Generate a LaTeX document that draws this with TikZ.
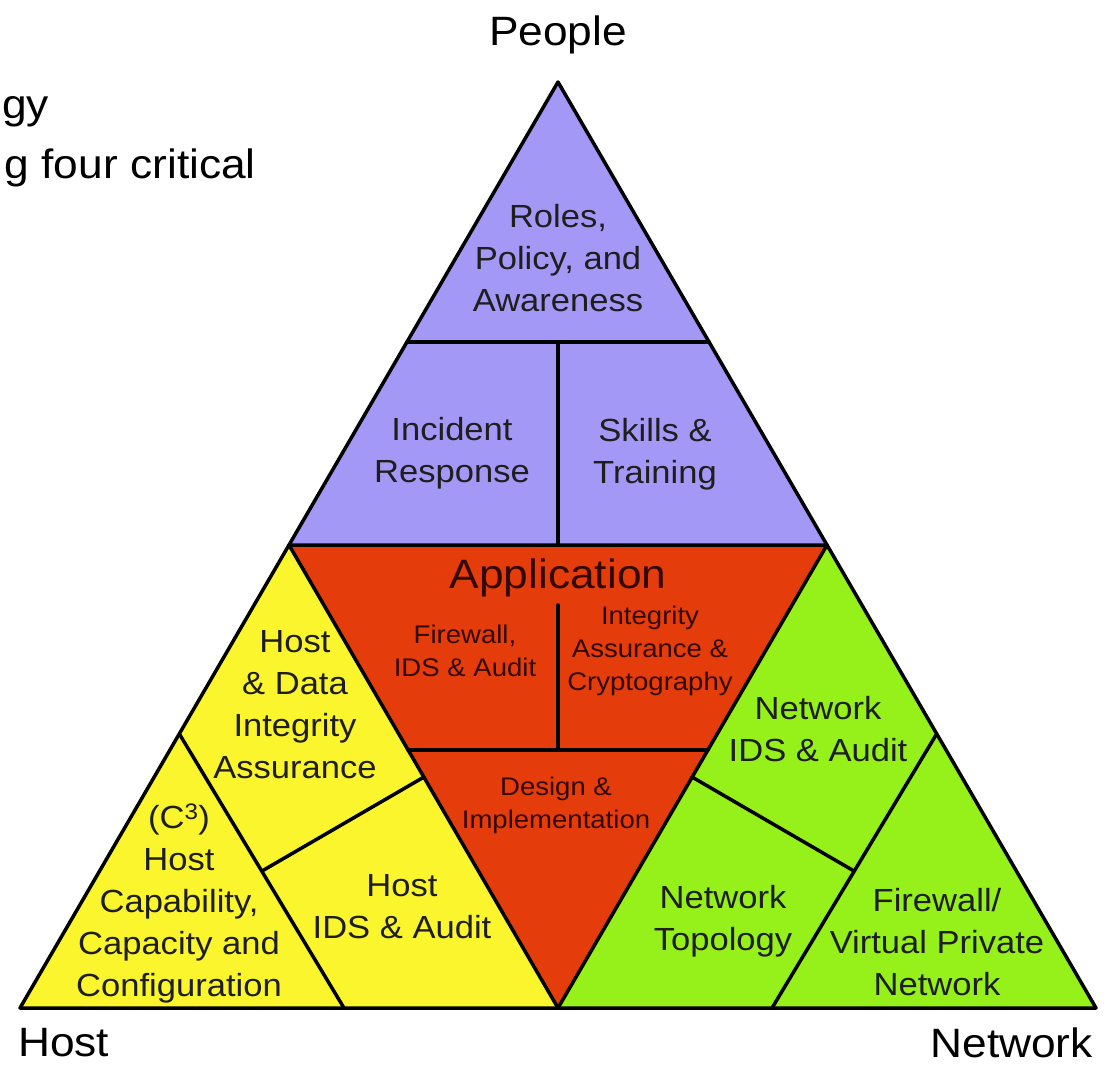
\documentclass[tikz,border=0pt]{standalone}
\usepackage{fontspec}
\setmainfont{Liberation Sans}
\newfontfamily\labfont[FakeStretch=1.08]{Liberation Sans}
\definecolor{ppl}{RGB}{164,152,246}
\definecolor{redc}{RGB}{228,60,10}
\definecolor{yel}{RGB}{250,245,45}
\definecolor{grn}{RGB}{150,240,25}
\definecolor{txt}{RGB}{30,30,30}
\definecolor{redtxt}{RGB}{50,8,0}
\begin{document}
\begin{tikzpicture}[x=1pt,y=-1pt,
  edge/.style={line width=3.5pt, line join=round, line cap=round, black},
  lbl/.style={align=center, text=txt, inner sep=0pt, font=\labfont\fontsize{32}{42}\selectfont},
  smlbl/.style={align=center, text=redtxt, inner sep=0pt, font=\labfont\fontsize{25.5}{33}\selectfont},
  applbl/.style={align=center, text=redtxt, inner sep=0pt, font=\labfont\fontsize{41}{48}\selectfont},
  biglbl/.style={text=black, inner sep=0pt, font=\labfont\fontsize{41}{60}\selectfont}]
\useasboundingbox (0,0) rectangle (1110,1065);
\fill[white] (0,0) rectangle (1110,1065);
% main points
\coordinate (T) at (558,82);
\coordinate (L) at (20,1008);
\coordinate (R) at (1096,1008);
\coordinate (ML) at (289,545);
\coordinate (MR) at (827,545);
\coordinate (MB) at (558,1008);
% fills
\fill[ppl] (T) -- (ML) -- (MR) -- cycle;
\fill[redc] (ML) -- (MR) -- (MB) -- cycle;
\fill[yel] (ML) -- (MB) -- (L) -- cycle;
\fill[grn] (MR) -- (R) -- (MB) -- cycle;
% divider points
\coordinate (P1) at (407,342);
\coordinate (P2) at (709,342);
\coordinate (P3) at (558,342);
\coordinate (R1) at (408,750);
\coordinate (R2) at (708,750);
\coordinate (R3) at (558,605);
\coordinate (R4) at (558,750);
\coordinate (Y1) at (180,735);
\coordinate (Y2) at (344,1008);
\coordinate (Y3) at (262,871);
\coordinate (Y4) at (424,777);
\coordinate (G1) at (936,735);
\coordinate (G2) at (772,1008);
\coordinate (G3) at (854,871);
\coordinate (G4) at (692,777);
% lines
\draw[edge] (T) -- (L) -- (R) -- cycle;
\draw[edge] (ML) -- (MR) -- (MB) -- cycle;
\draw[edge] (P1) -- (P2);
\draw[edge] (P3) -- (ML -| P3);
\draw[edge] (R1) -- (R2);
\draw[edge] (R3) -- (R4);
\draw[edge] (Y1) -- (Y2);
\draw[edge] (Y3) -- (Y4);
\draw[edge] (G1) -- (G2);
\draw[edge] (G3) -- (G4);
% labels
\node[lbl] (roles) at (558,258) {Roles,\\Policy, and\\Awareness};
\node[lbl] (incident) at (452,453) {Incident\\Response};
\node[lbl] (skills) at (655,454) {Skills \&\\Training};
\node[applbl] (app) at (558,578) {Application};
\node[smlbl] (fw) at (465,651) {Firewall,\\IDS \& Audit};
\node[smlbl] (integ) at (650,651) {Integrity\\Assurance \&\\Cryptography};
\node[smlbl] (design) at (556,805) {Design \&\\Implementation};
\node[lbl] (hostdata) at (295,705) {Host\\\& Data\\Integrity\\Assurance};
\node[lbl] (c3) at (179,903) {(C\textsuperscript{3})\\Host\\Capability,\\Capacity and\\Configuration};
\node[lbl] (hostids) at (402,907) {Host\\IDS \& Audit};
\node[lbl] (netids) at (818,729) {Network\\IDS \& Audit};
\node[lbl] (topo) at (723,921) {Network\\Topology};
\node[lbl] (fwvpn) at (937,942) {Firewall/\\Virtual Private\\Network};
\node[biglbl] (people) at (558,35) {People};
\node[biglbl, anchor=west] (host) at (18,1043) {Host};
\node[biglbl, anchor=east] (network) at (1093,1043) {Network};
\node[biglbl, anchor=base west] (gy) at (2,118) {gy};
\node[biglbl, anchor=base east] (crit) at (256,178) {g four critical};
\end{tikzpicture}
\end{document}
